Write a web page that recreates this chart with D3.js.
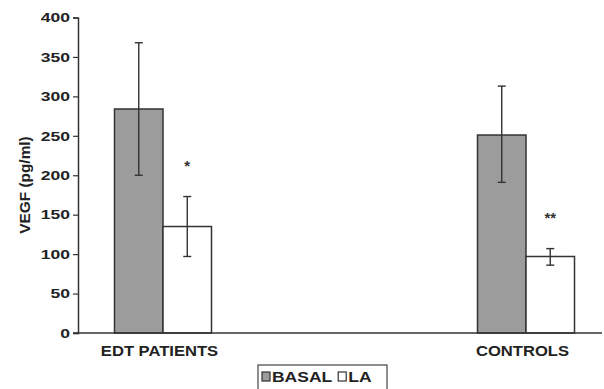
<!DOCTYPE html>
<html><head><meta charset="utf-8">
<script src="https://cdn.jsdelivr.net/npm/d3@7"></script>
<style>body{margin:0;background:#fff}svg{display:block;font-family:"Liberation Sans",Arial,sans-serif}</style>
</head><body><svg id="c" width="604" height="389"></svg>
<script>
const categories = ["EDT PATIENTS", "CONTROLS"];
const series = ["BASAL", "LA"];
const means = {BASAL: [284, 251], LA: [135, 97]};
const errLow = {BASAL: [200, 191], LA: [97, 86]};
const errHigh = {BASAL: [368, 313], LA: [173, 107]};
const stars = ["*", "**"];
const yTicks = [0, 50, 100, 150, 200, 250, 300, 350, 400];
const colors = {BASAL: "#9c9c9c", LA: "#ffffff"};

const svg = d3.select("#c");
const x0 = 78, xEnd = 602, yTop = 17.5, yBot = 333;
const y = d3.scaleLinear().domain([0, 400]).range([yBot, yTop]);
const xc = d3.scalePoint().domain(categories).range([163, 526]);
const xs = d3.scaleBand().domain(series).range([-48.5, 48.5]);

// stretched bold text helper
function stext(parent, x, yy, str, size, sx, anchor, rot) {
  const g = parent.append("g").attr("transform", `translate(${x},${yy})` + (rot ? ` rotate(${rot})` : "") + ` scale(${sx},1)`);
  return g.append("text").attr("text-anchor", anchor || "start").attr("font-size", size)
    .attr("font-weight", "bold").attr("fill", "#222").text(str);
}

// y axis
const ya = svg.append("g").attr("transform", `translate(${x0},0)`)
  .call(d3.axisLeft(y).tickValues(yTicks).tickSize(5).tickFormat(""));
ya.select(".domain").attr("stroke", "#333").attr("stroke-width", 1.5);
ya.selectAll(".tick line").attr("stroke", "#333").attr("stroke-width", 1.2);
yTicks.forEach(v => stext(svg, x0 - 8, y(v) + 4.8, String(v), 13.5, 1.3, "end"));

// bars
categories.forEach((c, i) => {
  series.forEach(s => {
    const bx = xc(c) + xs(s);
    svg.append("rect").attr("x", bx).attr("y", y(means[s][i]))
      .attr("width", xs.bandwidth()).attr("height", y(0) - y(means[s][i]))
      .attr("fill", colors[s]).attr("stroke", "#333").attr("stroke-width", 1.5);
    const cx = bx + xs.bandwidth() / 2;
    const g = svg.append("g").attr("stroke", "#333").attr("stroke-width", 1.4);
    g.append("line").attr("x1", cx).attr("x2", cx).attr("y1", y(errLow[s][i])).attr("y2", y(errHigh[s][i]));
    [errLow[s][i], errHigh[s][i]].forEach(v =>
      g.append("line").attr("x1", cx - 4).attr("x2", cx + 4).attr("y1", y(v)).attr("y2", y(v)));
  });
  const sx = xc(c) + xs("LA") + xs.bandwidth() / 2;
  svg.append("text").attr("x", sx).attr("y", y(errHigh.LA[i]) - 26)
    .attr("text-anchor", "middle").attr("font-size", 15).attr("font-weight", "bold").attr("fill", "#333")
    .text(stars[i]);
  stext(svg, xc(c) - 3.5, 356, c, 15.5, 1.07, "middle");
});

// x axis line
svg.append("line").attr("x1", x0 - 5).attr("x2", xEnd).attr("y1", yBot).attr("y2", yBot)
  .attr("stroke", "#333").attr("stroke-width", 1.5);

// y label
stext(svg, 30, 185, "VEGF (pg/ml)", 14, 1.1, "middle", -90);

// legend
const lg = svg.append("g");
lg.append("rect").attr("x", 258).attr("y", 365).attr("width", 129).attr("height", 30)
  .attr("fill", "#fff").attr("stroke", "#444").attr("stroke-width", 1.2);
let lx = 262;
series.forEach(s => {
  lg.append("rect").attr("x", lx).attr("y", 372).attr("width", 8).attr("height", 9)
    .attr("fill", colors[s]).attr("stroke", "#333").attr("stroke-width", 1.2);
  const t = stext(lg, lx + 10, 382, s, 14, 1.25, "start");
  lx += 10 + t.node().getComputedTextLength() * 1.25 + 6;
});
</script></body></html>
